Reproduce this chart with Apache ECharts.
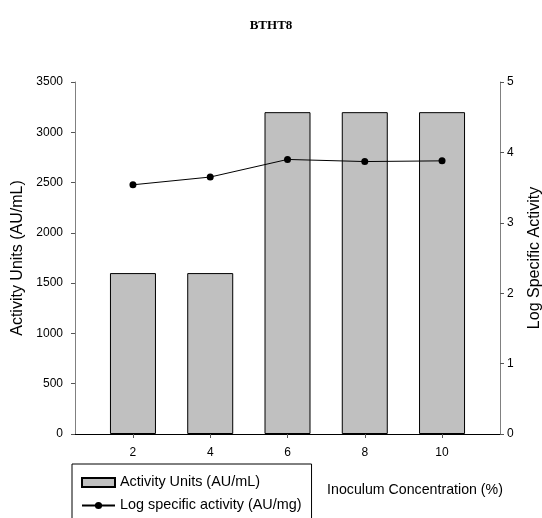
<!DOCTYPE html>
<html>
<head>
<meta charset="utf-8">
<script src="https://cdn.jsdelivr.net/npm/echarts@6/dist/echarts.min.js"></script>
<style>
  html, body { margin: 0; padding: 0; background: #fff; }
  #chart { width: 542px; height: 518px; }
</style>
</head>
<body>
<div id="chart"></div>
<script>
// inoculum concentration (%)
const concentrations = [2, 4, 6, 8, 10];
// activity units (AU/mL), bars on left axis
const activityUnits = [1600, 1600, 3200, 3200, 3200];
// log specific activity (AU/mg), line on right axis
const logSpecific = [3.54, 3.65, 3.90, 3.87, 3.88];
const xTicks = [2, 4, 6, 8, 10];

const myChart = echarts.init(document.getElementById("chart"));

const font = "Liberation Sans, Arial, sans-serif";

let option = {
  animation: false,
  textStyle: { fontFamily: font },
  title: {
    text: "BTHT8",
    left: "center",
    top: 14,
    textStyle: {
      fontFamily: "Liberation Serif, Times New Roman, serif",
      fontWeight: "bold",
      fontSize: 13,
      color: "#000"
    }
  },
  grid: {
    left: 75,
    right: 42,
    top: 82,
    bottom: 84,
    containLabel: false,
    outerBoundsMode: "none"
  },
  legend: {
    orient: "vertical",
    left: 72,
    top: 464,
    height: 120,
    padding: [10, 10, 40, 9],
    itemGap: 6,
    itemWidth: 33,
    itemHeight: 9,
    borderColor: "#000",
    borderWidth: 1,
    textStyle: { fontFamily: font, fontSize: 14.4, lineHeight: 17, color: "#000" },
    data: [
      { name: "Activity Units (AU/mL)", icon: "rect" },
      { name: "Log specific activity (AU/mg)" }
    ]
  },
  xAxis: [
    {
      type: "value",
      min: 0.5,
      max: 11.5,
      name: "Inoculum Concentration (%)",
      nameLocation: "middle",
      nameGap: 49,
      nameTextStyle: { fontSize: 14.2, color: "#000", padding: [0, 0, 0, 255] },
      splitLine: { show: false },
      axisLine: { lineStyle: { color: "#000" } },
      axisTick: {
        customValues: xTicks,
        length: 4,
        lineStyle: { color: "#555" }
      },
      axisLabel: {
        customValues: xTicks,
        margin: 13,
        fontSize: 12,
        color: "#000"
      }
    },
    {
      type: "value",
      position: "top",
      min: 0.5,
      max: 11.5,
      splitLine: { show: false },
      axisLine: { show: true, lineStyle: { color: "#000" } },
      axisTick: { show: false },
      axisLabel: { show: false }
    }
  ],
  yAxis: [
    {
      type: "value",
      min: 0,
      max: 3500,
      interval: 500,
      name: "Activity Units (AU/mL)",
      nameLocation: "middle",
      nameGap: 45,
      nameTextStyle: { fontSize: 16, color: "#000" },
      splitLine: { show: false },
      axisLine: { show: true, lineStyle: { color: "#808080" } },
      axisTick: { show: true, length: 4, lineStyle: { color: "#555" } },
      axisLabel: {
        margin: 12,
        fontSize: 12,
        color: "#000",
        formatter: v => String(v)
      }
    },
    {
      type: "value",
      min: 0,
      max: 5,
      interval: 1,
      position: "right",
      name: "Log Specific Activity",
      nameLocation: "middle",
      nameGap: 27,
      nameTextStyle: { fontSize: 16, color: "#000" },
      splitLine: { show: false },
      axisLine: { show: true, lineStyle: { color: "#808080" } },
      axisTick: { show: true, length: 4, lineStyle: { color: "#555" } },
      axisLabel: { margin: 7, fontSize: 12, color: "#000" }
    }
  ],
  series: [
    {
      name: "Activity Units (AU/mL)",
      type: "bar",
      xAxisIndex: 0,
      yAxisIndex: 0,
      barWidth: 46,
      itemStyle: { color: "#c0c0c0", borderColor: "#000", borderWidth: 1 },
      data: concentrations.map((c, i) => [c, activityUnits[i]])
    },
    {
      name: "Log specific activity (AU/mg)",
      type: "line",
      xAxisIndex: 0,
      yAxisIndex: 1,
      symbol: "circle",
      symbolSize: 7,
      lineStyle: { color: "#000", width: 1 },
      itemStyle: { color: "#000" },
      data: concentrations.map((c, i) => [c, logSpecific[i]])
    }
  ]
};
myChart.setOption(option);
</script>
</body>
</html>
